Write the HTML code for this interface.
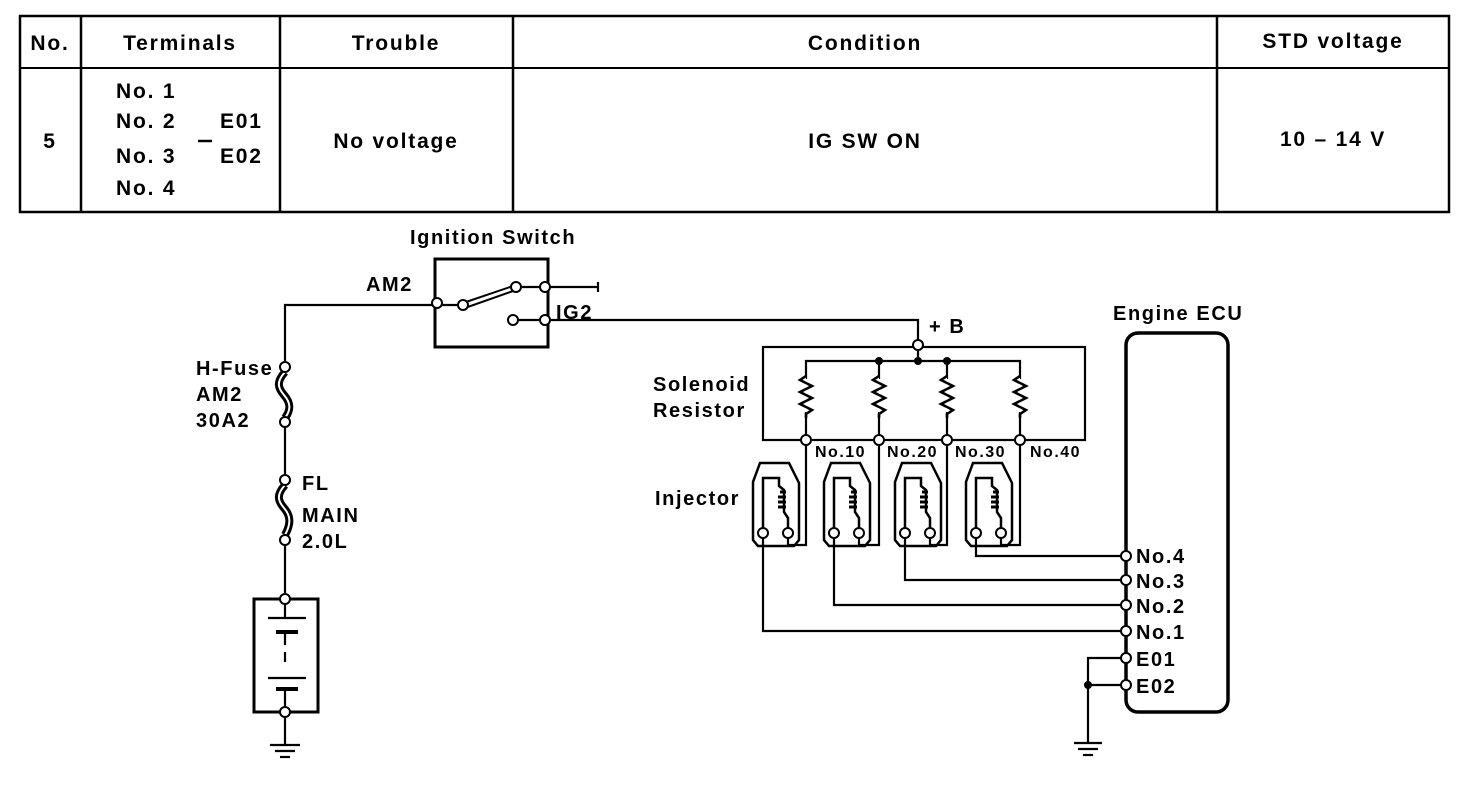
<!DOCTYPE html>
<html><head><meta charset="utf-8"><style>
html,body{margin:0;padding:0;background:#fff}
svg{display:block}
text{font-family:"Liberation Sans",sans-serif;fill:#000}
.t{font-weight:bold;font-size:21px;letter-spacing:1.8px}
.d{font-size:20px;font-weight:bold;letter-spacing:1.6px}
.s{font-size:16px;font-weight:bold;letter-spacing:1.5px}
</style></head><body>
<svg width="1472" height="786" viewBox="0 0 1472 786" xmlns="http://www.w3.org/2000/svg">
<g stroke="#000" fill="none" stroke-width="2.5">
<rect x="20" y="16" width="1429" height="196"/>
<line x1="20" y1="68" x2="1449" y2="68" stroke-width="2"/>
<line x1="81" y1="16" x2="81" y2="212"/>
<line x1="280" y1="16" x2="280" y2="212"/>
<line x1="513" y1="16" x2="513" y2="212"/>
<line x1="1217" y1="16" x2="1217" y2="212"/>
</g>
<text x="50" y="50" text-anchor="middle" class="t">No.</text>
<text x="180" y="50" text-anchor="middle" class="t">Terminals</text>
<text x="396" y="50" text-anchor="middle" class="t">Trouble</text>
<text x="865" y="50" text-anchor="middle" class="t">Condition</text>
<text x="1333" y="48" text-anchor="middle" class="t">STD voltage</text>
<text x="50" y="148" text-anchor="middle" class="t">5</text>
<text x="116" y="98" class="t">No. 1</text>
<text x="116" y="128" class="t">No. 2</text>
<text x="116" y="163" class="t">No. 3</text>
<text x="116" y="195" class="t">No. 4</text>
<text x="220" y="128" class="t">E01</text>
<text x="220" y="163" class="t">E02</text>
<text x="396" y="148" text-anchor="middle" class="t">No voltage</text>
<text x="865" y="148" text-anchor="middle" class="t">IG SW ON</text>
<text x="1333" y="146" text-anchor="middle" class="t">10 – 14 V</text>
<line x1="198" y1="141" x2="212" y2="141" stroke="#000" stroke-width="2.5"/>

<g stroke="#000" fill="none" stroke-width="2.2">
<polyline points="437,305 285,305 285,367"/>
<line x1="285" y1="422" x2="285" y2="480"/>
<line x1="285" y1="540" x2="285" y2="598"/>
<line x1="285" y1="712" x2="285" y2="745"/>
<line x1="270" y1="745" x2="300" y2="745"/>
<line x1="275" y1="751" x2="295" y2="751"/>
<line x1="280" y1="757" x2="290" y2="757"/>
<path d="M285,372 C276,382 278,388 284,395 C291,403 291,410 285,418" stroke-width="8"/>
<path d="M285,372 C276,382 278,388 284,395 C291,403 291,410 285,418" stroke="#fff" stroke-width="2"/>
<path d="M285,485 C276,495 278,501 284,508 C291,516 291,524 285,535" stroke-width="8"/>
<path d="M285,485 C276,495 278,501 284,508 C291,516 291,524 285,535" stroke="#fff" stroke-width="2"/>
<rect x="254" y="599" width="64" height="113" stroke-width="3"/>
<line x1="268" y1="618" x2="306" y2="618"/>
<line x1="276" y1="632" x2="298" y2="632" stroke-width="4"/>
<line x1="285" y1="632" x2="285" y2="645"/>
<line x1="285" y1="652" x2="285" y2="662"/>
<line x1="268" y1="678" x2="306" y2="678"/>
<line x1="276" y1="689" x2="298" y2="689" stroke-width="4"/>
<line x1="285" y1="689" x2="285" y2="712"/>
<line x1="285" y1="605" x2="285" y2="618"/>
<rect x="435" y="259" width="113" height="88" stroke-width="3"/>
<line x1="437" y1="305" x2="463" y2="305"/>
<polygon points="463,303 516,285 516,290 465,308" stroke-width="2"/>
<line x1="516" y1="287" x2="545" y2="287"/>
<line x1="513" y1="320" x2="545" y2="320"/>
<line x1="545" y1="287" x2="598" y2="287"/>
<line x1="598" y1="282" x2="598" y2="292"/>
<polyline points="545,320 918,320 918,345"/>
<rect x="763" y="347" width="322" height="93"/>
<polyline points="806,440 806,361 1020,361 1020,440"/>
<line x1="879" y1="361" x2="879" y2="440"/>
<line x1="947" y1="361" x2="947" y2="440"/>
<line x1="918" y1="347" x2="918" y2="361"/>
</g>
<g stroke="#000" fill="#fff" stroke-width="2.4">
<path d="M806,376 l-6,4 l12,6 l-12,6 l12,6 l-12,6 l12,6 l-6,4 v4" />
<path d="M879,376 l-6,4 l12,6 l-12,6 l12,6 l-12,6 l12,6 l-6,4 v4" />
<path d="M947,376 l-6,4 l12,6 l-12,6 l12,6 l-12,6 l12,6 l-6,4 v4" />
<path d="M1020,376 l-6,4 l12,6 l-12,6 l12,6 l-12,6 l12,6 l-6,4 v4" />
</g>
<g stroke="#fff" stroke-width="3">
<line x1="806" y1="379" x2="806" y2="412"/>
<line x1="879" y1="379" x2="879" y2="412"/>
<line x1="947" y1="379" x2="947" y2="412"/>
<line x1="1020" y1="379" x2="1020" y2="412"/>
</g>
<g stroke="#000" fill="none" stroke-width="2.4">
<path d="M806,376 l-6,4 l12,6 l-12,6 l12,6 l-12,6 l12,6 l-6,4 v4" />
<path d="M879,376 l-6,4 l12,6 l-12,6 l12,6 l-12,6 l12,6 l-6,4 v4" />
<path d="M947,376 l-6,4 l12,6 l-12,6 l12,6 l-12,6 l12,6 l-6,4 v4" />
<path d="M1020,376 l-6,4 l12,6 l-12,6 l12,6 l-12,6 l12,6 l-6,4 v4" />
</g>
<g fill="#000">
<circle cx="879" cy="361" r="4"/><circle cx="918" cy="361" r="4"/><circle cx="947" cy="361" r="4"/>
<circle cx="1088" cy="685" r="4"/>
</g>
<defs>
<g id="inj" stroke="#000" fill="none" stroke-width="2.5">
<path d="M-10,540 L-10,482 L-3,463 L26,463 L36,483 L36,540 L31,546 L-5,546 Z"/>
<path d="M0,533 L0,478 L16,478 L16,486 L21,490 L21,512 L25,518 L25,533"/>
<path d="M17,492 h6 M15,497 h8 M15,502 h8 M15,507 h8" stroke-width="3"/>
</g>
</defs>
<use href="#inj" x="763"/>
<use href="#inj" x="834"/>
<use href="#inj" x="905"/>
<use href="#inj" x="976"/>
<g stroke="#000" fill="none" stroke-width="2.2">
<polyline points="788,533 788,545 806,545 806,440"/>
<polyline points="859,533 859,545 879,545 879,440"/>
<polyline points="930,533 930,545 947,545 947,440"/>
<polyline points="1001,533 1001,545 1020,545 1020,440"/>
<polyline points="763,533 763,631 1126,631"/>
<polyline points="834,533 834,605 1126,605"/>
<polyline points="905,533 905,580 1126,580"/>
<polyline points="976,533 976,556 1126,556"/>
<rect x="1126" y="333" width="102" height="379" rx="12" stroke-width="3.5"/>
<polyline points="1126,658 1088,658 1088,742"/>
<line x1="1088" y1="685" x2="1126" y2="685"/>
<line x1="1074" y1="743" x2="1102" y2="743"/>
<line x1="1078" y1="749" x2="1098" y2="749"/>
<line x1="1083" y1="755" x2="1093" y2="755"/>
</g>
<g fill="#fff" stroke="#000" stroke-width="2">
<circle cx="285" cy="367" r="5"/><circle cx="285" cy="422" r="5"/>
<circle cx="285" cy="480" r="5"/><circle cx="285" cy="540" r="5"/>
<circle cx="285" cy="599" r="5"/><circle cx="285" cy="712" r="5"/>
<circle cx="437" cy="303" r="5"/><circle cx="463" cy="305" r="5"/>
<circle cx="516" cy="287" r="5"/><circle cx="545" cy="287" r="5"/>
<circle cx="513" cy="320" r="5"/><circle cx="545" cy="320" r="5"/>
<circle cx="918" cy="345" r="5"/>
<circle cx="806" cy="440" r="5"/><circle cx="879" cy="440" r="5"/>
<circle cx="947" cy="440" r="5"/><circle cx="1020" cy="440" r="5"/>
<circle cx="763" cy="533" r="5"/><circle cx="788" cy="533" r="5"/>
<circle cx="834" cy="533" r="5"/><circle cx="859" cy="533" r="5"/>
<circle cx="905" cy="533" r="5"/><circle cx="930" cy="533" r="5"/>
<circle cx="976" cy="533" r="5"/><circle cx="1001" cy="533" r="5"/>
<circle cx="1126" cy="556" r="5"/><circle cx="1126" cy="580" r="5"/>
<circle cx="1126" cy="605" r="5"/><circle cx="1126" cy="631" r="5"/>
<circle cx="1126" cy="658" r="5"/><circle cx="1126" cy="685" r="5"/>
</g>
<text x="410" y="244" class="d">Ignition Switch</text>
<text x="366" y="291" class="d">AM2</text>
<text x="556" y="319" class="d">IG2</text>
<text x="929" y="333" class="d">+ B</text>
<text x="1113" y="320" class="d">Engine ECU</text>
<text x="196" y="375" class="d">H-Fuse</text>
<text x="196" y="401" class="d">AM2</text>
<text x="196" y="427" class="d">30A2</text>
<text x="302" y="490" class="d">FL</text>
<text x="302" y="522" class="d">MAIN</text>
<text x="302" y="548" class="d">2.0L</text>
<text x="653" y="391" class="d">Solenoid</text>
<text x="653" y="417" class="d">Resistor</text>
<text x="655" y="505" class="d">Injector</text>
<text x="815" y="457" class="s">No.10</text>
<text x="887" y="457" class="s">No.20</text>
<text x="955" y="457" class="s">No.30</text>
<text x="1030" y="457" class="s">No.40</text>
<text x="1136" y="563" class="d">No.4</text>
<text x="1136" y="588" class="d">No.3</text>
<text x="1136" y="613" class="d">No.2</text>
<text x="1136" y="639" class="d">No.1</text>
<text x="1136" y="666" class="d">E01</text>
<text x="1136" y="693" class="d">E02</text>
</svg>
</body></html>
